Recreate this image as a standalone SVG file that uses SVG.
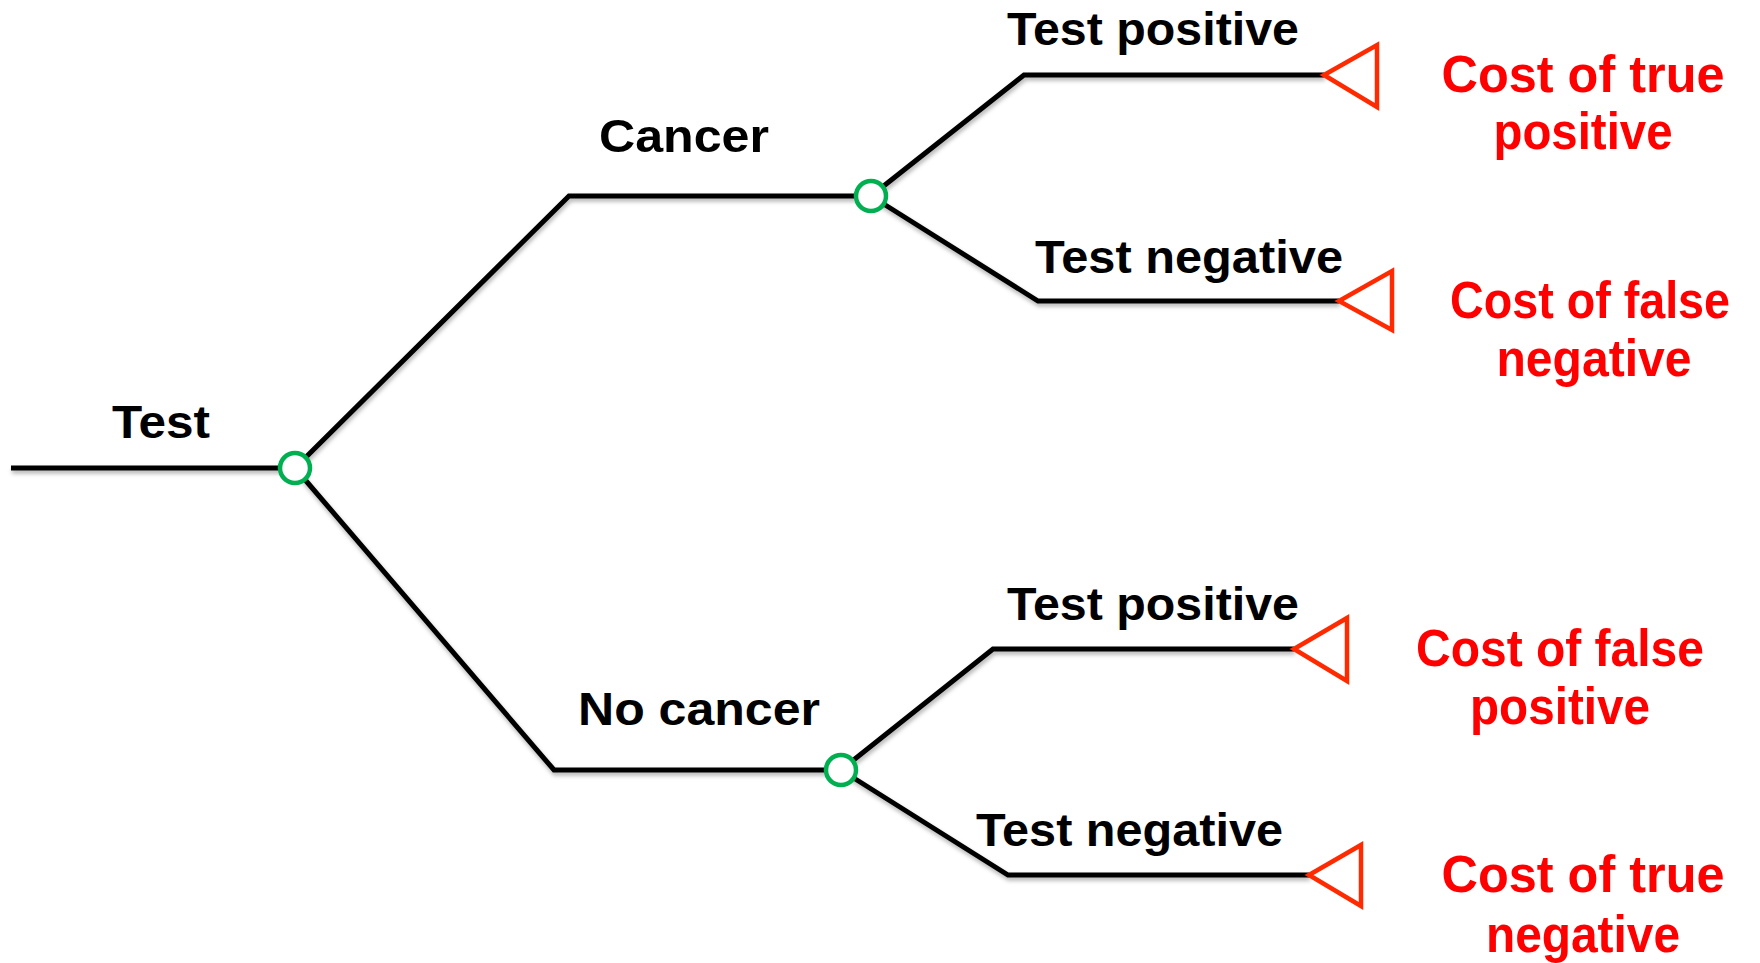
<svg xmlns="http://www.w3.org/2000/svg" width="1760" height="963" viewBox="0 0 1760 963">
<defs>
<filter id="sh" x="-5%" y="-20%" width="110%" height="140%">
<feDropShadow dx="1" dy="3" stdDeviation="2" flood-color="#000" flood-opacity="0.3"/>
</filter>
</defs>
<style>
.ln{fill:none;stroke:#000;stroke-width:5;stroke-linejoin:miter}
.ch{fill:#fff;stroke:#00B050;stroke-width:4.5}
.tri{fill:#fff;stroke:#FF2A00;stroke-width:4.5;stroke-linejoin:miter}
.lb{font-family:"Liberation Sans",Arial,sans-serif;font-weight:bold;font-size:46px;fill:#000}
.rd{font-family:"Liberation Sans",Arial,sans-serif;font-weight:bold;font-size:52px;fill:#FF0000;text-anchor:middle}
</style>
<rect width="1760" height="963" fill="#fff"/>
<g id="connectors" filter="url(#sh)">
<path class="ln" d="M11,468 H295"/>
<path class="ln" d="M295,468 L569,196 H871"/>
<path class="ln" d="M295,468 L554,770 H841"/>
<path class="ln" d="M871,196 L1024,75 H1324"/>
<path class="ln" d="M871,196 L1038,301 H1339"/>
<path class="ln" d="M841,770 L993,649 H1294"/>
<path class="ln" d="M841,770 L1008,875 H1309"/>
</g>
<g id="labels">
<text class="lb" x="112" y="438" textLength="98" lengthAdjust="spacingAndGlyphs">Test</text>
<text class="lb" x="599" y="152" textLength="170" lengthAdjust="spacingAndGlyphs">Cancer</text>
<text class="lb" x="578" y="725" textLength="242" lengthAdjust="spacingAndGlyphs">No cancer</text>
<text class="lb" x="1007" y="45" textLength="292" lengthAdjust="spacingAndGlyphs">Test positive</text>
<text class="lb" x="1035" y="273" textLength="308" lengthAdjust="spacingAndGlyphs">Test negative</text>
<text class="lb" x="1007" y="620" textLength="292" lengthAdjust="spacingAndGlyphs">Test positive</text>
<text class="lb" x="976" y="846" textLength="307" lengthAdjust="spacingAndGlyphs">Test negative</text>
</g>
<g id="chance-test"><circle class="ch" cx="295" cy="468" r="15"/></g>
<g id="chance-cancer"><circle class="ch" cx="871" cy="196" r="15"/></g>
<g id="chance-nocancer"><circle class="ch" cx="841" cy="770" r="15"/></g>
<g id="end-tp"><path class="tri" d="M1324,75 L1377,45 V107 Z"/>
<text class="rd" x="1583" y="92" textLength="283" lengthAdjust="spacingAndGlyphs">Cost of true</text>
<text class="rd" x="1583" y="149" textLength="179" lengthAdjust="spacingAndGlyphs">positive</text></g>
<g id="end-fn"><path class="tri" d="M1339,301 L1392,271 V330 Z"/>
<text class="rd" x="1590" y="318" textLength="280" lengthAdjust="spacingAndGlyphs">Cost of false</text>
<text class="rd" x="1594" y="376" textLength="195" lengthAdjust="spacingAndGlyphs">negative</text></g>
<g id="end-fp"><path class="tri" d="M1294,649 L1347,618 V681 Z"/>
<text class="rd" x="1560" y="666" textLength="288" lengthAdjust="spacingAndGlyphs">Cost of false</text>
<text class="rd" x="1560" y="724" textLength="180" lengthAdjust="spacingAndGlyphs">positive</text></g>
<g id="end-tn"><path class="tri" d="M1309,875 L1361,845 V906 Z"/>
<text class="rd" x="1583" y="892" textLength="283" lengthAdjust="spacingAndGlyphs">Cost of true</text>
<text class="rd" x="1583" y="952" textLength="194" lengthAdjust="spacingAndGlyphs">negative</text></g>
</svg>
